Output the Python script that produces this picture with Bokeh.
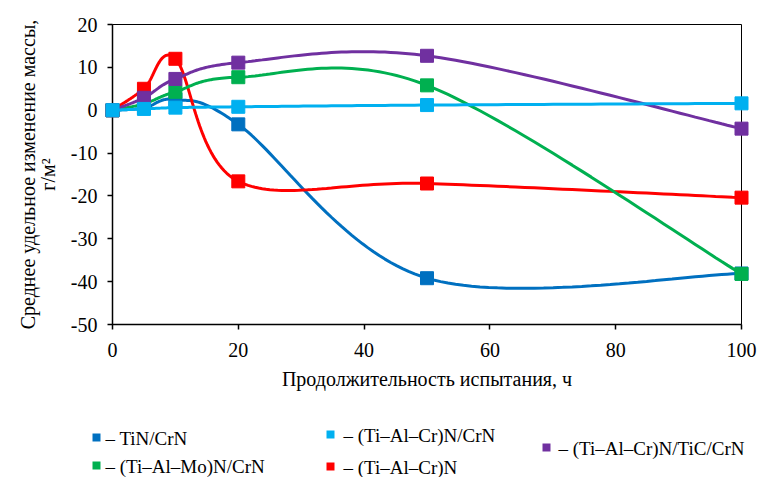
import numpy as np
from bokeh.plotting import figure
from bokeh.models import FixedTicker, Range1d
from bokeh.core.properties import value
from bokeh.embed import file_html
from bokeh.resources import INLINE

# ---------------- data ----------------
hours = [0, 5, 10, 20, 50, 100]

names = [
    "– TiN/CrN",
    "– (Ti–Al–Mo)N/CrN",
    "– (Ti–Al–Cr)N/CrN",
    "– (Ti–Al–Cr)N",
    "– (Ti–Al–Cr)N/TiC/CrN",
]
tin_crn = [0, 0.5, 2.5, -3.3, -39.2, -38.1]
tialmo_crn = [0, 1.5, 4.3, 7.7, 5.8, -38.2]
tialcr_crn = [0, 0.3, 0.6, 0.8, 1.2, 1.6]
tialcr = [0, 5.0, 12.0, -16.6, -17.1, -20.4]
tialcr_tic_crn = [0, 2.9, 7.3, 11.1, 12.7, -4.3]

colors = ["#0070C0", "#00B050", "#00B0F0", "#FF0000", "#7030A0"]

x_ticks = [0, 20, 40, 60, 80, 100]
x_tick_labels = ["0", "20", "40", "60", "80", "100"]
y_ticks = [-50, -40, -30, -20, -10, 0, 10, 20]
y_tick_labels = ["-50", "-40", "-30", "-20", "-10", "0", "10", "20"]

x_title = "Продолжительность испытания, ч"
y_title = "Среднее удельное изменение массы,\nг/м²"

series = [tin_crn, tialmo_crn, tialcr_crn, tialcr, tialcr_tic_crn]


def smooth(xs, ys, n=40):
    """Excel-like smoothed line (Catmull-Rom converted to cubic Bezier)."""
    P = list(zip(xs, ys))
    m = len(P)
    ox, oy = [], []
    for i in range(m - 1):
        p0 = P[i - 1] if i > 0 else P[i]
        p1 = P[i]
        p2 = P[i + 1]
        p3 = P[i + 2] if i + 2 < m else P[i + 1]
        c1 = (p1[0] + (p2[0] - p0[0]) / 6.0, p1[1] + (p2[1] - p0[1]) / 6.0)
        c2 = (p2[0] - (p3[0] - p1[0]) / 6.0, p2[1] - (p3[1] - p1[1]) / 6.0)
        t = np.linspace(0, 1, n, endpoint=(i == m - 2))
        a = (1 - t) ** 3
        b = 3 * (1 - t) ** 2 * t
        c = 3 * (1 - t) * t ** 2
        d = t ** 3
        ox.extend(a * p1[0] + b * c1[0] + c * c2[0] + d * p2[0])
        oy.extend(a * p1[1] + b * c1[1] + c * c2[1] + d * p2[1])
    return ox, oy


FONT = "Liberation Serif"

# layout (pixels)
FRAME_LEFT, FRAME_TOP, FRAME_W, FRAME_H = 112, 24, 629, 300

x_lo, x_hi = x_ticks[0], x_ticks[-1]
y_lo, y_hi = y_ticks[0], y_ticks[-1]

p = figure(
    frame_width=FRAME_W, frame_height=FRAME_H,
    min_border_left=FRAME_LEFT, min_border_right=19,
    min_border_top=FRAME_TOP, min_border_bottom=153,
    x_range=Range1d(x_lo, x_hi), y_range=Range1d(y_lo, y_hi),
    output_backend="svg", toolbar_location=None,
    background_fill_color="white", border_fill_color="white",
)
p.xgrid.visible = False
p.ygrid.visible = False
p.outline_line_color = "black"
p.outline_line_width = 1

for ax, ticks, labels in ((p.xaxis[0], x_ticks, x_tick_labels), (p.yaxis[0], y_ticks, y_tick_labels)):
    ax.ticker = FixedTicker(ticks=ticks)
    ax.major_label_overrides = {t: l for t, l in zip(ticks, labels)}
    ax.axis_line_color = "black"
    ax.axis_line_width = 1.5
    ax.major_tick_line_color = "black"
    ax.major_tick_line_width = 1.5
    ax.major_tick_in = 0
    ax.major_tick_out = 5
    ax.minor_tick_in = 0
    ax.minor_tick_out = 0
    ax.major_label_text_font = FONT
    ax.major_label_text_font_size = "20px"
    ax.major_label_text_color = "black"
    ax.axis_label_text_font = FONT
    ax.axis_label_text_font_size = "20px"
    ax.axis_label_text_font_style = "normal"
    ax.axis_label_text_color = "black"

p.xaxis.axis_label = x_title
p.yaxis.axis_label = y_title
p.yaxis.axis_label_text_line_height = 0.9
p.xaxis.major_label_standoff = 13
p.yaxis.major_label_standoff = 10
p.xaxis.axis_label_standoff = 8
p.yaxis.axis_label_standoff = 9

draw_order = [0, 3, 1, 4, 2]
for i in draw_order:
    ys = series[i]
    sx, sy = smooth(hours, ys)
    p.line(sx, sy, line_color=colors[i], line_width=3, level="overlay")
    p.scatter(hours, ys, marker="square", size=13,
              fill_color=colors[i], line_color=colors[i], level="overlay")


# ---------------- legend below the plot (drawn as un-clipped overlay glyphs) ----------------
def px_to_data(px, py):
    """Convert a page pixel position to data units through the plot's own ranges."""
    dx = x_lo + (px - FRAME_LEFT) / FRAME_W * (x_hi - x_lo)
    dy = y_hi - (py - FRAME_TOP) / FRAME_H * (y_hi - y_lo)
    return dx, dy


# marker centre and text start (page pixels) for each legend entry
leg_marker_px = [(96, 437), (96, 465), (330, 434), (330, 466), (546, 447)]
leg_text_px = [(105, 438), (105, 466), (343, 435), (343, 467), (558, 448)]
SWATCH = 8  # legend square side, px

for (cx, cy), col in zip(leg_marker_px, colors):
    xa, ya = px_to_data(cx - SWATCH / 2, cy)
    xb, _ = px_to_data(cx + SWATCH / 2, cy)
    # a short thick butt-capped line gives an exact square swatch that is not culled
    p.line([xa, xb], [ya, ya], line_color=col, line_width=SWATCH,
           line_cap="butt", level="overlay")

tx, ty = zip(*[px_to_data(*pt) for pt in leg_text_px])
p.text(list(tx), list(ty), text=names,
       text_font=value(FONT), text_font_size="19px", text_color="black",
       text_align="left", text_baseline="middle", level="overlay")

open("out.html", "w").write(file_html(p, INLINE))
